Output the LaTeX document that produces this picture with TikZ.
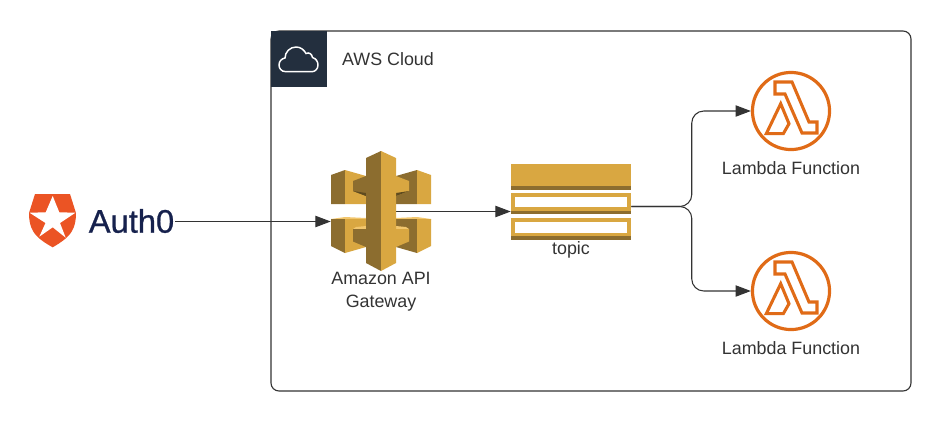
\documentclass[tikz,border=0pt]{standalone}
\usepackage{fontspec}
\setmainfont{Liberation Sans}
\newfontfamily\authfont[FakeBold=0.7]{Liberation Sans}
\usetikzlibrary{arrows.meta}
\definecolor{inkgrey}{HTML}{333333}
\definecolor{awsnavy}{HTML}{232F3E}
\definecolor{gwlight}{HTML}{D9A741}
\definecolor{gwdark}{HTML}{8C6D2F}
\definecolor{gwshade}{HTML}{5F4B1F}
\definecolor{gwtop}{HTML}{F2C66D}
\definecolor{lambdaorange}{HTML}{E06B17}
\definecolor{authorange}{HTML}{EB5424}
\definecolor{authnavy}{HTML}{16214D}
\begin{document}
\begin{tikzpicture}[
  x=0.75pt, y=-0.75pt,
  caption/.style={font=\fontsize{13.4pt}{16.5pt}\selectfont, text=inkgrey, align=center, inner sep=0pt},
  spot/.style={inner sep=0pt, minimum width=#1},
  arr/.style={-{Triangle[length=11.5pt,width=8.5pt]}, color=inkgrey, line width=0.8pt},
  lambdafn/.style={circle, draw=lambdaorange, line width=2.4pt, inner sep=0pt, minimum size=57.8pt},
  lambdaglyph/.pic={
    \draw[lambdaorange, line width=2.3pt, line join=miter]
      (-16,-29) -- (1,-29) -- (18,11) -- (26,11) -- (26,22) -- (11,22) -- (-6,-17) -- (-16,-17) -- cycle
      (-24.7,22.7) -- (-10.3,-7.3) -- (-2,12.7) -- (-7.7,22.7) -- cycle;
  }
]
  \useasboundingbox (0,0) rectangle (946,437);

  \node[draw=inkgrey, line width=0.85pt, rounded corners=6pt, inner sep=0pt,
    minimum width=480pt, minimum height=270pt] (awsCloud) at (591,211) {};
  \node[fill=awsnavy, inner sep=0pt, minimum size=42pt] (awsHeader) at (299,59) {};
  \draw[white, line width=1.1pt] (286,71.7) .. controls (281,71.7) and (279,68) .. (279,65)
    .. controls (279,61) and (282,58.5) .. (285,58) .. controls (285,52) and (290,47) .. (296,47)
    .. controls (301,47) and (304,50) .. (306,53.5) .. controls (309,52) and (312,54) .. (312.5,57.5)
    .. controls (316,58.5) and (318,61.5) .. (318,65) .. controls (318,69) and (315,71.7) .. (312,71.7) -- cycle;
  \node[caption] (awsLabel) at (388,59.5) {AWS Cloud};

  \node[spot=109.5pt, minimum height=40pt] (auth0) at (102,221.5) {};
  \node[spot=75pt, minimum height=90pt] (gateway) at (381,211.5) {};
  \node[spot=90pt, minimum height=57pt] (topic) at (571,202) {};
  \node[lambdafn] (lambda1) at (791,111) {};
  \node[lambdafn] (lambda2) at (791,291) {};

  \draw[arr] (auth0.east) -- (auth0 -| gateway.west);
  \draw[arr] (gateway.center) -- ([yshift=-7.125pt]topic.west);
  \draw[arr, rounded corners=9pt] ([yshift=-3.375pt]topic.east) -- ++(60.5,0) |- (lambda1.west);
  \draw[arr, rounded corners=9pt] ([yshift=-3.375pt]topic.east) -- ++(60.5,0) |- (lambda2.west);

  % auth0 logo
  \fill[authorange] (35,194) -- (70,194) -- (76,213) .. controls (76,220) and (75,226) .. (72,231)
    .. controls (68,238) and (60,243) .. (52.7,247.3) .. controls (45,243) and (37,238) .. (33,231)
    .. controls (30,226) and (29,220) .. (29,213) -- cycle;
  \fill[white] (52.7,196) -- (59.3,212.3) -- (75.5,212.7) -- (60,223) -- (65.7,237.7) -- (52.7,227.3)
    -- (39.3,236.7) -- (45.5,223) -- (29.5,212.7) -- (45.7,212.3) -- cycle;
  \node[inner sep=0pt, text=authnavy, font=\authfont\fontsize{24.5pt}{25pt}\selectfont] (auth0Label) at (131.5,221) {Auth0};

  % gateway icon, left blocks
  \fill[gwdark] (331,175) -- (345,170) -- (345,204) -- (331,204) -- cycle;
  \fill[gwlight] (345,170) -- (366,176) -- (366,204) -- (345,204) -- cycle;
  \fill[gwdark] (353,181) -- (366,176) -- (366,196) -- (353,191) -- cycle;
  \fill[gwshade] (353,191) -- (366,193) -- (366,196) -- cycle;
  \fill[gwtop] (331,219) -- (345,217) -- (366,218) -- (366,220) -- (331,220) -- cycle;
  \fill[gwdark] (331,219) -- (345,219) -- (345,253) -- (331,246) -- cycle;
  \fill[gwlight] (345,219) -- (366,219) -- (366,247) -- (345,253) -- cycle;
  \fill[gwtop] (353,229) -- (356,227) -- (366,226) -- (366,229) -- cycle;
  \fill[gwdark] (353,229) -- (366,229) -- (366,247) -- (353,241.5) -- cycle;
  % gateway icon, right blocks
  \fill[gwdark] (396,176) -- (417,170) -- (417,204) -- (396,204) -- cycle;
  \fill[gwlight] (417,170) -- (431,175) -- (431,204) -- (417,204) -- cycle;
  \fill[gwlight] (396,176) -- (409,181) -- (409,191) -- (396,196) -- cycle;
  \fill[gwshade] (409,191) -- (396,193) -- (396,196) -- cycle;
  \fill[gwtop] (396,218) -- (417,217) -- (431,219) -- (431,220) -- (396,220) -- cycle;
  \fill[gwdark] (396,219) -- (417,219) -- (417,253) -- (396,247) -- cycle;
  \fill[gwlight] (417,219) -- (431,219) -- (431,246) -- (417,253) -- cycle;
  \fill[gwtop] (396,226) -- (406,227) -- (409,229) -- (396,229) -- cycle;
  \fill[gwlight] (396,229) -- (409,229) -- (409,241.5) -- (396,247) -- cycle;
  % gateway icon, pillar
  \fill[gwdark] (366,158) -- (381,151) -- (381,271) -- (366,263) -- cycle;
  \fill[gwlight] (381,151) -- (396,158) -- (396,263) -- (381,271) -- cycle;
  \node[caption] (gatewayLabel) at (381,291.5) {Amazon API\\[0.7pt]Gateway};

  % topic bars
  \fill[gwlight] (511,164) rectangle (631,186);
  \fill[gwdark] (511,186) rectangle (631,190);
  \fill[gwlight] (511,193) rectangle (631,211);
  \fill[gwdark] (511,211) rectangle (631,214);
  \fill[white] (515,197) rectangle (627,207);
  \fill[gwlight] (511,218) rectangle (631,236);
  \fill[gwdark] (511,236) rectangle (631,240);
  \fill[white] (515,222) rectangle (627,233);
  \node[caption] (topicLabel) at (571,250) {topic};

  \pic at (lambda1) {lambdaglyph};
  \pic at (lambda2) {lambdaglyph};
  \node[caption] (lambda1Label) at (791,168.5) {Lambda Function};
  \node[caption] (lambda2Label) at (791,348.5) {Lambda Function};
\end{tikzpicture}
\end{document}
